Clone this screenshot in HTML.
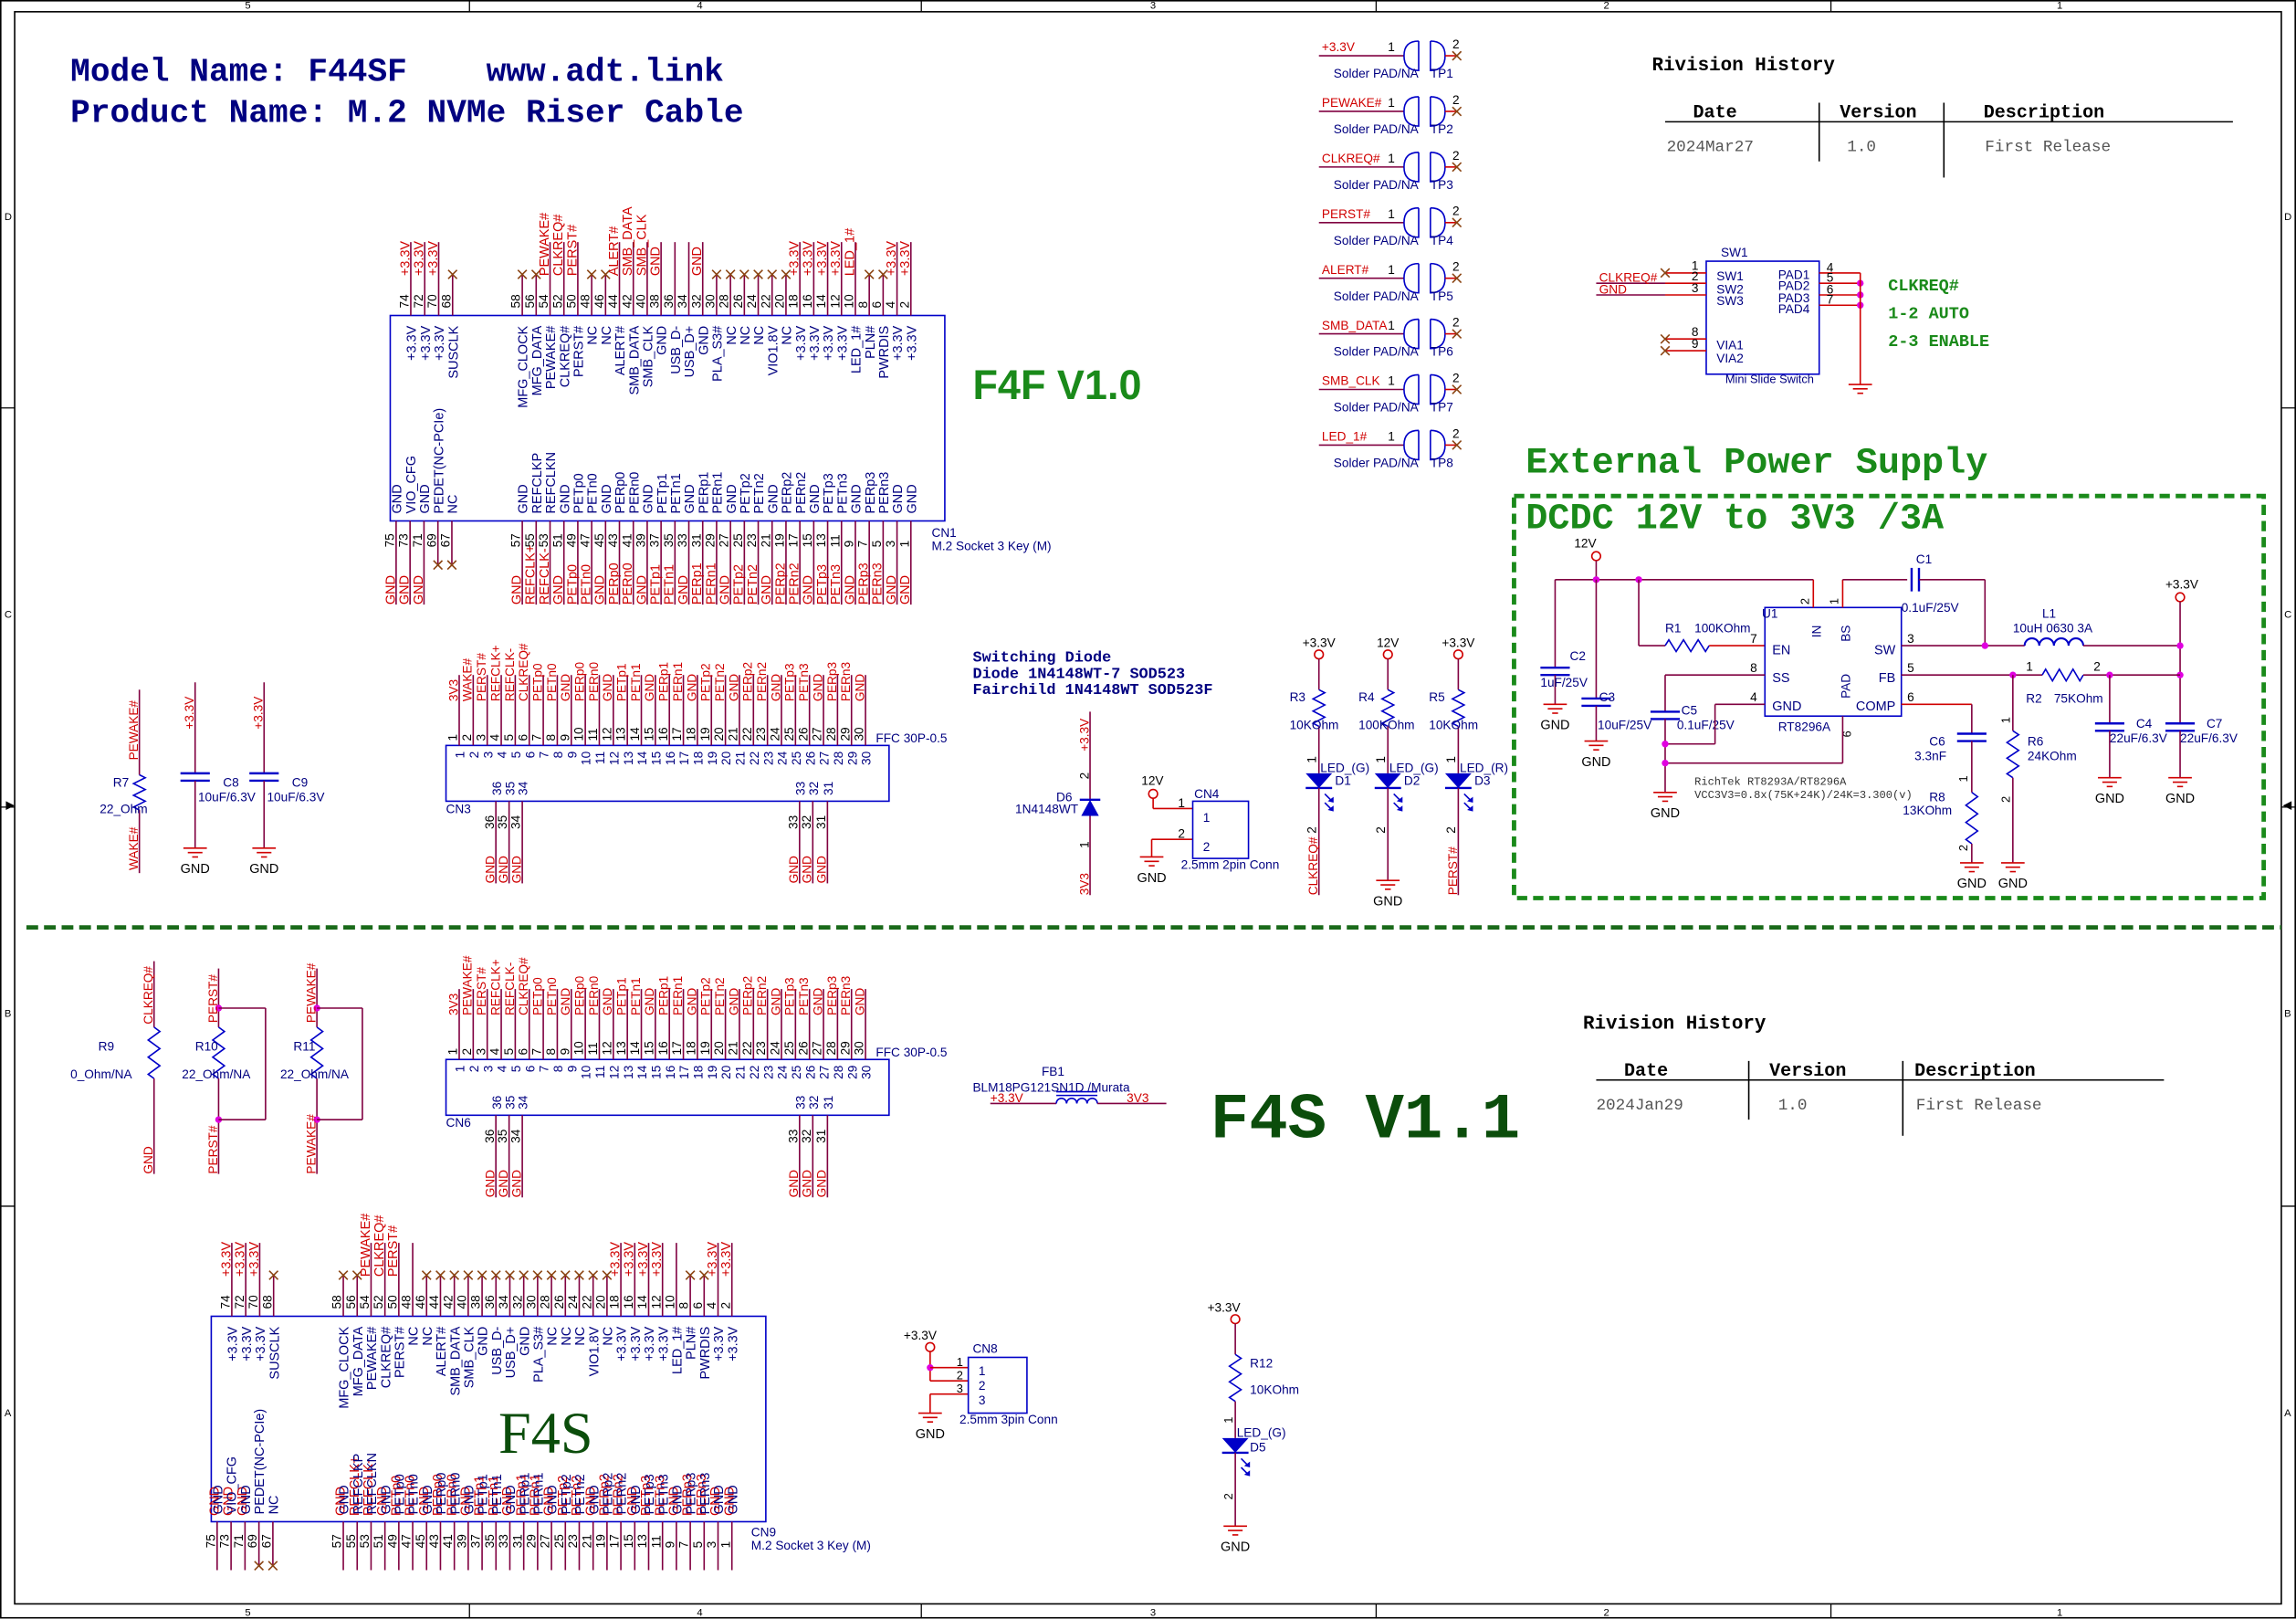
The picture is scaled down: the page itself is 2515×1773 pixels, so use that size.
<!DOCTYPE html>
<html><head><meta charset="utf-8"><style>
html,body{margin:0;padding:0;background:#fff;}
svg{display:block;font-family:"Liberation Sans",sans-serif;}
.m{font-family:"Liberation Mono",monospace;}
</style></head><body>
<svg id="sv" width="2515" height="1773" viewBox="0 0 1565 1103.3" preserveAspectRatio="none" xmlns="http://www.w3.org/2000/svg">
<rect x="0" y="0" width="1565" height="1104" fill="#fff"/>
<rect x="0.5" y="0.5" width="1564" height="1102" fill="none" stroke="#000" stroke-width="1"/>
<rect x="10" y="8" width="1545" height="1085" fill="none" stroke="#000" stroke-width="1"/>
<g font-size="7" fill="#000">
<text x="167" y="6">5</text><text x="475" y="6">4</text><text x="784" y="6">3</text><text x="1093" y="6">2</text><text x="1402" y="6">1</text>
<text x="167" y="1101">5</text><text x="475" y="1101">4</text><text x="784" y="1101">3</text><text x="1093" y="1101">2</text><text x="1402" y="1101">1</text>
<text x="3" y="150">D</text><text x="3" y="421">C</text><text x="3" y="693">B</text><text x="3" y="965">A</text>
<text x="1557" y="150">D</text><text x="1557" y="421">C</text><text x="1557" y="693">B</text><text x="1557" y="965">A</text>
</g>
<g stroke="#000" stroke-width="0.8">
<line x1="320" y1="0" x2="320" y2="8"/><line x1="628" y1="0" x2="628" y2="8"/><line x1="938" y1="0" x2="938" y2="8"/><line x1="1248" y1="0" x2="1248" y2="8"/>
<line x1="320" y1="1093" x2="320" y2="1103"/><line x1="628" y1="1093" x2="628" y2="1103"/><line x1="938" y1="1093" x2="938" y2="1103"/><line x1="1248" y1="1093" x2="1248" y2="1103"/>
<line x1="0" y1="278" x2="10" y2="278"/><line x1="0" y1="550" x2="10" y2="550"/><line x1="0" y1="822" x2="10" y2="822"/>
<line x1="1555" y1="278" x2="1565" y2="278"/><line x1="1555" y1="550" x2="1565" y2="550"/><line x1="1555" y1="822" x2="1565" y2="822"/>
</g>
<polygon points="4,546 10,549 4,552" fill="#000"/><polygon points="1562,546 1556,549 1562,552" fill="#000"/>

<text x="48" y="55" class="m" font-size="22.5" font-weight="bold" fill="#000080" xml:space="preserve" style="white-space:pre">Model Name: F44SF    www.adt.link</text>
<text x="48" y="83" class="m" font-size="22.5" font-weight="bold" fill="#000080">Product Name: M.2 NVMe Riser Cable</text>

<text x="663" y="272" font-size="28" font-weight="bold" fill="#1a8a1a">F4F V1.0</text>
<text x="825" y="775" class="m" font-size="44" font-weight="bold" fill="#0b4d0b">F4S V1.1</text>
<text x="1040" y="322" class="m" font-size="25" font-weight="bold" fill="#1a8a1a">External Power Supply</text>
<text x="1040" y="360" class="m" font-size="25" font-weight="bold" fill="#1a8a1a">DCDC 12V to 3V3 /3A</text>
<rect x="1032" y="338" width="511" height="274" fill="none" stroke="#1a8a1a" stroke-width="3" stroke-dasharray="7,4"/>
<line x1="18" y1="632" x2="1555" y2="632" stroke="#1a6a1a" stroke-width="3" stroke-dasharray="8,4"/>

<text x="663" y="451" class="m" font-size="10.5" font-weight="bold" fill="#000080">Switching Diode</text>
<text x="663" y="462" class="m" font-size="10.5" font-weight="bold" fill="#000080">Diode 1N4148WT-7 SOD523</text>
<text x="663" y="473" class="m" font-size="10.5" font-weight="bold" fill="#000080">Fairchild 1N4148WT SOD523F</text>

<text x="1126" y="48" class="m" font-size="13" font-weight="bold">Rivision History</text>
<line x1="1135" y1="83" x2="1522" y2="83" stroke="#000"/>
<line x1="1240" y1="70" x2="1240" y2="110" stroke="#000"/><line x1="1325" y1="70" x2="1325" y2="121" stroke="#000"/>
<text x="1154" y="80" class="m" font-size="12.5" font-weight="bold">Date</text>
<text x="1254" y="80" class="m" font-size="12.5" font-weight="bold">Version</text>
<text x="1352" y="80" class="m" font-size="12.5" font-weight="bold">Description</text>
<text x="1136" y="103" class="m" font-size="11" fill="#555">2024Mar27</text>
<text x="1259" y="103" class="m" font-size="11" fill="#555">1.0</text>
<text x="1353" y="103" class="m" font-size="11" fill="#555">First Release</text>
<text x="1079" y="701" class="m" font-size="13" font-weight="bold">Rivision History</text>
<line x1="1088" y1="736" x2="1475" y2="736" stroke="#000"/>
<line x1="1192" y1="723" x2="1192" y2="763" stroke="#000"/><line x1="1297" y1="723" x2="1297" y2="774" stroke="#000"/>
<text x="1107" y="733" class="m" font-size="12.5" font-weight="bold">Date</text>
<text x="1206" y="733" class="m" font-size="12.5" font-weight="bold">Version</text>
<text x="1305" y="733" class="m" font-size="12.5" font-weight="bold">Description</text>
<text x="1088" y="756" class="m" font-size="11" fill="#555">2024Jan29</text>
<text x="1212" y="756" class="m" font-size="11" fill="#555">1.0</text>
<text x="1306" y="756" class="m" font-size="11" fill="#555">First Release</text>

<text x="1287" y="198" class="m" font-size="11.5" font-weight="bold" fill="#1a8a1a">CLKREQ#</text>
<text x="1287" y="217" class="m" font-size="11.5" font-weight="bold" fill="#1a8a1a">1-2 AUTO</text>
<text x="1287" y="236" class="m" font-size="11.5" font-weight="bold" fill="#1a8a1a">2-3 ENABLE</text>
<text x="1155" y="535" class="m" font-size="7.5" fill="#333">RichTek RT8293A/RT8296A</text>
<text x="1155" y="544" class="m" font-size="7.5" fill="#333">VCC3V3=0.8x(75K+24K)/24K=3.300(v)</text>
<text x="372" y="990" font-family="Liberation Serif,serif" font-size="40" fill="#0b4d0b" text-anchor="middle">F4S</text>
<g id="gen"></g>
</svg>
<script>
let s='';
const W='#800040',R='#d00000',B='#0000c8',N='#000080',K='#000';
function L(x1,y1,x2,y2,c,w){c=c||W;w=w||1;s+=`<line x1="${x1}" y1="${y1}" x2="${x2}" y2="${y2}" stroke="${c}" stroke-width="${w}"/>`;}
function T(x,y,t,c,fs,a,rot){c=c||K;fs=fs||9;a=a||'start';s+=`<text x="${x}" y="${y}" fill="${c}" font-size="${fs}" text-anchor="${a}"${rot?` transform="rotate(${rot} ${x} ${y})"`:''}>${t}</text>`;}
function X(x,y){L(x-3,y-3,x+3,y+3,'#8b4513');L(x-3,y+3,x+3,y-3,'#8b4513');}
function G(x,y,lbl){L(x-8,y,x+8,y,R);L(x-5,y+3,x+5,y+3,R);L(x-2,y+6,x+2,y+6,R);if(lbl!==false)T(x,y+17,'GND',K,9,'middle');}
function P(x,y){s+=`<circle cx="${x}" cy="${y}" r="3" fill="none" stroke="${R}"/>`;}
function D(x,y){s+=`<circle cx="${x}" cy="${y}" r="2.3" fill="#e000e0"/>`;}
function ZV(x,y1,y2){let n=6,h=(y2-y1)/n,p=`M${x} ${y1}`;for(let i=0;i<n;i++)p+=` L${x+(i%2?-4:4)} ${y1+h*(i+0.5)}`;p+=` L${x} ${y2}`;s+=`<path d="${p}" fill="none" stroke="${B}"/>`;}
function ZH(x1,x2,y){let n=6,h=(x2-x1)/n,p=`M${x1} ${y}`;for(let i=0;i<n;i++)p+=` L${x1+h*(i+0.5)} ${y+(i%2?4:-4)}`;p+=` L${x2} ${y}`;s+=`<path d="${p}" fill="none" stroke="${B}"/>`;}
function CV(x,y){L(x-10,y,x+10,y,B,1.5);L(x-10,y+5,x+10,y+5,B,1.5);}
function CH(x,y){L(x,y-8,x,y+8,B,1.5);L(x+5,y-8,x+5,y+8,B,1.5);}
function RECT(x,y,w,h){s+=`<rect x="${x}" y="${y}" width="${w}" height="${h}" fill="none" stroke="${B}"/>`;}
function LED(x,y){s+=`<polygon points="${x-9},${y} ${x+9},${y} ${x},${y+10}" fill="${B}"/>`;L(x-9,y+10,x+9,y+10,B,1.5);
 L(x+4,y+14,x+9,y+19,B);L(x+4,y+20,x+9,y+25,B);s+=`<polygon points="${x+10},${y+20} ${x+6},${y+19} ${x+10},${y+16}" fill="${B}"/><polygon points="${x+10},${y+26} ${x+6},${y+25} ${x+10},${y+22}" fill="${B}"/>`;}

const topP=[74,72,70,68];for(let p=58;p>=2;p-=2)topP.push(p);
const botP=[75,73,71,69,67];for(let p=57;p>=1;p-=2)botP.push(p);
const topN={74:'+3.3V',72:'+3.3V',70:'+3.3V',68:'SUSCLK',58:'MFG_CLOCK',56:'MFG_DATA',54:'PEWAKE#',52:'CLKREQ#',50:'PERST#',48:'NC',46:'NC',44:'ALERT#',42:'SMB_DATA',40:'SMB_CLK',38:'GND',36:'USB_D-',34:'USB_D+',32:'GND',30:'PLA_S3#',28:'NC',26:'NC',24:'NC',22:'VIO1.8V',20:'NC',18:'+3.3V',16:'+3.3V',14:'+3.3V',12:'+3.3V',10:'LED_1#',8:'PLN#',6:'PWRDIS',4:'+3.3V',2:'+3.3V'};
const botN={75:'GND',73:'VIO_CFG',71:'GND',69:'PEDET(NC-PCIe)',67:'NC',57:'GND',55:'REFCLKP',53:'REFCLKN',51:'GND',49:'PETp0',47:'PETn0',45:'GND',43:'PERp0',41:'PERn0',39:'GND',37:'PETp1',35:'PETn1',33:'GND',31:'PERp1',29:'PERn1',27:'GND',25:'PETp2',23:'PETn2',21:'GND',19:'PERp2',17:'PERn2',15:'GND',13:'PETp3',11:'PETn3',9:'GND',7:'PERp3',5:'PERn3',3:'GND',1:'GND'};
const botNet={};for(const p of botP){let n=botN[p];if(p==55)n='REFCLK+';if(p==53)n='REFCLK-';if(p==73)n='GND';if(p==69||p==67)n='X';botNet[p]=n;}
function tx(p){return p>=68?280+(74-p)/2*9.5:356+(58-p)/2*9.46;}
function bxp(p){return p>=67?270+(75-p)/2*9.5:356+(57-p)/2*9.46;}
function m2(ox,oy,tnet,bottomInside,bend){
 const by=215+oy,bb=355+oy;RECT(266+ox,by,378,140);
 for(const p of topP){const x=tx(p)+ox,n=tnet[p];
  if(n==='X'){L(x,by,x,by-28);X(x,by-28);}else{L(x,by,x,by-50);if(n)T(x-1,by-27,n,R,9,'start',-90);}
  T(x-1.5,by-5,p,K,8.5,'start',-90);T(x+3.5,by+7,topN[p],N,9,'end',-90);}
 for(const p of botP){const x=bxp(p)+ox,n=botNet[p];
  if(n==='X'){L(x,bb,x,bb+30);X(x,bb+30);}else{L(x,bb,x,bend+oy);if(!bottomInside)T(x-1,bend+oy,n,R,9,'start',-90);else T(x+1,bb-4,n,R,9,'start',-90);}
  T(x-1.5,bb+18,p,K,8.5,'start',-90);T(x+3.5,bb-5,botN[p],N,9,'start',-90);}
}
const t1={};for(const p of topP)t1[p]='';
Object.assign(t1,{74:'+3.3V',72:'+3.3V',70:'+3.3V',68:'X',58:'X',56:'X',54:'PEWAKE#',52:'CLKREQ#',50:'PERST#',48:'X',46:'X',44:'ALERT#',42:'SMB_DATA',40:'SMB_CLK',38:'GND',32:'GND',30:'X',28:'X',26:'X',24:'X',22:'X',20:'X',18:'+3.3V',16:'+3.3V',14:'+3.3V',12:'+3.3V',10:'LED_1#',8:'X',6:'X',4:'+3.3V',2:'+3.3V'});
m2(0,0,t1,false,412);
T(635,366,'CN1',N,8.5);T(635,375,'M.2 Socket 3 Key (M)',N,8.5);
const t2={};for(const p of topP)t2[p]='X';
Object.assign(t2,{74:'+3.3V',72:'+3.3V',70:'+3.3V',54:'PEWAKE#',52:'CLKREQ#',50:'PERST#',48:'',18:'+3.3V',16:'+3.3V',14:'+3.3V',12:'+3.3V',10:'',4:'+3.3V',2:'+3.3V'});
m2(-122,682,t2,true,388);
T(512,1047,'CN9',N,8.5);T(512,1056,'M.2 Socket 3 Key (M)',N,8.5);

const f3=['3V3','WAKE#','PERST#','REFCLK+','REFCLK-','CLKREQ#','PETp0','PETn0','GND','PERp0','PERn0','GND','PETp1','PETn1','GND','PERp1','PERn1','GND','PETp2','PETn2','GND','PERp2','PERn2','GND','PETp3','PETn3','GND','PERp3','PERn3','GND'];
function ffc(oy,lab,name){const by=508+oy;RECT(304,by,302,38);
 for(let i=1;i<=30;i++){const x=313+(i-1)*9.55;L(x,by-48,x,by);T(x-1.5,by-3,i,K,8.5,'start',-90);T(x+3.5,by+4,i,N,8.5,'end',-90);T(x-1,by-30,lab[i-1],R,8.5,'start',-90);}
 [[36,338],[35,347],[34,356],[33,545],[32,554],[31,564]].forEach(([p,x])=>{L(x,by+38,x,by+94);T(x+3.5,by+34,p,N,8.5,'start',-90);T(x-1.5,by+57,p,K,8.5,'start',-90);T(x-1,by+94,'GND',R,8.5,'start',-90);});
 T(597,by-2,'FFC 30P-0.5',N,8.5);T(304,by+46,name,N,8.5);}
ffc(0,f3,'CN3');const f6=f3.slice();f6[1]='PEWAKE#';ffc(214,f6,'CN6');

L(95,470,95,528);ZV(95,528,552);L(95,552,95,595);T(94,518,'PEWAKE#',R,8.5,'start',-90);T(94,593,'WAKE#',R,8.5,'start',-90);T(77,536,'R7',N,8.5);T(68,554,'22_Ohm',N,8.5);
[[133,'C8'],[180,'C9']].forEach(([x,n])=>{L(x,465,x,527);CV(x,527);L(x,532,x,578);G(x,578);T(x-1,497,'+3.3V',R,8.5,'start',-90);T(x+19,536,n,N,8.5);T(x+2,546,'10uF/6.3V',N,8.5);});
L(105,655,105,700);ZV(105,700,735);L(105,735,105,800);T(104,698,'CLKREQ#',R,8.5,'start',-90);T(104,800,'GND',R,8.5,'start',-90);T(67,716,'R9',N,8.5);T(48,735,'0_Ohm/NA',N,8.5);
[[149,181,'PERST#','R10'],[216,247,'PEWAKE#','R11']].forEach(([x,xr,n,r])=>{L(x,660,x,700);ZV(x,700,735);L(x,735,x,800);D(x,687);D(x,763);L(x,687,xr,687);L(xr,687,xr,763);L(x,763,xr,763);T(x-1,697,n,R,8.5,'start',-90);T(x-1,800,n,R,8.5,'start',-90);T(x-16,716,r,N,8.5);T(x-25,735,'22_Ohm/NA',N,8.5);});

L(743,485,743,545);s+=`<polygon points="737,556 749,556 743,545" fill="${B}"/>`;L(736,545,750,545,B,1.5);L(743,556,743,610);
T(742,512,'+3.3V',R,8.5,'start',-90);T(742,610,'3V3',R,8.5,'start',-90);T(742,531,'2',K,8.5,'start',-90);T(742,578,'1',K,8.5,'start',-90);T(720,546,'D6',N,8.5);T(692,554,'1N4148WT',N,8.5);
P(786,541);T(778,535,'12V',K,8.5);L(786,544,786,551,R);L(786,551,813,551,R);L(785,572,813,572,R);L(785,572,785,584,R);G(785,584);
RECT(813,546,38,39);T(814,544,'CN4',N,8.5);T(820,560,'1',N,8.5);T(820,580,'2',N,8.5);T(803,550,'1',K,8.5);T(803,571,'2',K,8.5);T(805,592,'2.5mm 2pin  Conn',N,8.5);
[[899,'+3.3V','R3','10KOhm','LED_(G)','D1','CLKREQ#'],[946,'12V','R4','100KOhm','LED_(G)','D2','G'],[994,'+3.3V','R5','10KOhm','LED_(R)','D3','PERST#']].forEach(([x,pw,r,v,l,d,b])=>{
 T(x,441,pw,K,8.5,'middle');P(x,446);L(x,449,x,470);ZV(x,470,495);L(x,495,x,527);LED(x,527);L(x,537,x,b==='G'?600:610);
 T(x-20,478,r,N,8.5);T(x-20,497,v,N,8.5);T(x-2,520,'1',K,8.5,'start',-90);T(x-2,568,'2',K,8.5,'start',-90);T(x+1,526,l,N,8.5);T(x+11,535,d,N,8.5);
 if(b==='G')G(x,600);else T(x-1,610,b,R,8.5,'start',-90);});

const tps=['+3.3V','PEWAKE#','CLKREQ#','PERST#','ALERT#','SMB_DATA','SMB_CLK','LED_1#'];
tps.forEach((n,i)=>{const y=38+i*37.9;T(901,y-3,n,R,8.5);L(899,y,957,y);T(946,y-3,'1',K,8.5);
 s+=`<path d="M967 ${y-10} L967 ${y+10} Q957 ${y+10} 957 ${y} Q957 ${y-10} 967 ${y-10}" fill="none" stroke="${B}"/>`;
 s+=`<path d="M975 ${y-10} L975 ${y+10} Q985 ${y+10} 985 ${y} Q985 ${y-10} 975 ${y-10}" fill="none" stroke="${B}"/>`;
 L(985,y,993,y,R);X(993,y);T(990,y-5,'2',K,8.5);T(909,y+15,'Solder PAD/NA',N,8.5);T(975,y+15,'TP'+(i+1),N,8.5);});

RECT(1163,178,77,77);T(1173,175,'SW1',N,8.5);
[[186,'1','X'],[193,'2','CLKREQ#'],[201,'3','GND'],[231,'8','X'],[239,'9','X']].forEach(([y,p,n])=>{L(1135,y,1163,y,R);T(1153,y-2,p,K,8.5);if(n==='X')X(1135,y);else{L(1088,y,1135,y,W);T(1090,y-1,n,R,8.5);}});
T(1170,191,'SW1',N,8.5);T(1170,200,'SW2',N,8.5);T(1170,208,'SW3',N,8.5);T(1170,238,'VIA1',N,8.5);T(1170,247,'VIA2',N,8.5);
[[186,'4','PAD1'],[193,'5','PAD2'],[201,'6','PAD3'],[208,'7','PAD4']].forEach(([y,p,n],i)=>{L(1240,y,1268,y,R);T(1245,y-1,p,K,8.5);T(1212,y+4+i*0.5,n,N,8.5);if(i)D(1268,y);});
L(1268,186,1268,262,R);G(1268,262,false);T(1176,261,'Mini Slide Switch',N,8);

P(1088,379);T(1073,373,'12V',K,8.5);L(1088,382,1088,395);L(1060,395,1236,395);D(1088,395);D(1117,395);
L(1060,395,1060,455);CV(1060,455);L(1060,460,1060,480);G(1060,480);T(1070,450,'C2',N,8.5);T(1050,468,'1uF/25V',N,8.5);
L(1088,395,1088,476);CV(1088,476);L(1088,481,1088,505);G(1088,505);T(1090,478,'C3',N,8.5);T(1089,497,'10uF/25V',N,8.5);
L(1117,395,1117,440);L(1117,440,1135,440);ZH(1135,1165,440);L(1165,440,1203,440,R);T(1135,431,'R1',N,8.5);T(1155,431,'100KOhm',N,8.5);
RECT(1203,414,93,74);T(1201,421,'U1',N,8.5);
L(1236,395,1236,414,R);L(1256,395,1256,414,R);L(1256,395,1300,395);CH(1303,395);L(1308,395,1353,395);L(1353,395,1353,440);
T(1306,384,'C1',N,8.5);T(1296,417,'0.1uF/25V',N,8.5);T(1233,412,'2',K,8,'start',-90);T(1253,412,'1',K,8,'start',-90);
T(1241,426,'IN',N,8.5,'end',-90);T(1261,426,'BS',N,8.5,'end',-90);T(1261,476,'PAD',N,8.5,'start',-90);
T(1208,446,'EN',N,9);T(1208,465,'SS',N,9);T(1208,484,'GND',N,9);T(1292,446,'SW',N,9,'end');T(1292,465,'FB',N,9,'end');T(1292,484,'COMP',N,9,'end');T(1212,498,'RT8296A',N,8.5);
T(1193,438,'7',K,8.5);T(1193,458,'8',K,8.5);T(1193,478,'4',K,8.5);T(1300,438,'3',K,8.5);T(1300,458,'5',K,8.5);T(1300,478,'6',K,8.5);T(1256,498,'9',K,8,'start',90);
L(1296,440,1380,440);D(1353,440);s+=`<path d="M1380 440 a5 5 0 0 1 10 0 a5 5 0 0 1 10 0 a5 5 0 0 1 10 0 a5 5 0 0 1 10 0" fill="none" stroke="${B}" stroke-width="1.3"/>`;L(1420,440,1486,440);
T(1392,421,'L1',N,8.5);T(1372,431,'10uH 0630 3A',N,8.5);
P(1486,407);T(1476,401,'+3.3V',K,8.5);L(1486,410,1486,493);D(1486,440);D(1486,460);CV(1486,493);L(1486,498,1486,530);G(1486,530);T(1504,496,'C7',N,8.5);T(1486,506,'22uF/6.3V',N,8.5);
L(1296,460,1392,460);D(1372,460);ZH(1392,1420,460);L(1420,460,1486,460);D(1438,460);T(1381,457,'1',K,8.5);T(1427,457,'2',K,8.5);T(1381,479,'R2',N,8.5);T(1400,479,'75KOhm',N,8.5);
L(1438,460,1438,493);CV(1438,493);L(1438,498,1438,530);G(1438,530);T(1456,496,'C4',N,8.5);T(1438,506,'22uF/6.3V',N,8.5);
L(1372,460,1372,498);ZV(1372,498,530);L(1372,530,1372,588);G(1372,588);T(1382,508,'R6',N,8.5);T(1382,518,'24KOhm',N,8.5);T(1370,493,'1',K,8,'start',-90);T(1370,547,'2',K,8,'start',-90);
L(1296,480,1344,480,R);L(1344,480,1344,500);CV(1344,500);L(1344,505,1344,540);ZV(1344,540,575);L(1344,575,1344,588);G(1344,588);
T(1315,508,'C6',N,8.5);T(1305,518,'3.3nF',N,8.5);T(1315,546,'R8',N,8.5);T(1297,555,'13KOhm',N,8.5);T(1341,533,'1',K,8,'start',-90);T(1341,580,'2',K,8,'start',-90);
L(1203,460,1135,460);L(1135,460,1135,485);CV(1135,485);L(1135,490,1135,540);G(1135,540);T(1146,487,'C5',N,8.5);T(1143,497,'0.1uF/25V',N,8.5);
L(1203,480,1169,480);L(1169,480,1169,507);L(1169,507,1135,507);D(1135,507);L(1256,488,1256,520);L(1256,520,1135,520);D(1135,520);

T(710,733,'FB1',N,8.5);T(663,744,'BLM18PG121SN1D /Murata',N,8.5);L(675,752,720,752);s+=`<path d="M720 752 a3.5 3.5 0 0 1 7 0 a3.5 3.5 0 0 1 7 0 a3.5 3.5 0 0 1 7 0 a3.5 3.5 0 0 1 7 0" fill="none" stroke="${B}"/>`;
L(720,744,748,744,B);L(720,746.5,748,746.5,B);L(748,752,795,752);T(675,751,'+3.3V',R,8.5);T(768,751,'3V3',R,8.5);
P(634,918);T(616,913,'+3.3V',K,8.5);L(634,921,634,941,R);D(634,932);L(634,932,660,932,R);L(634,941,660,941,R);L(634,950,660,950,R);L(634,950,634,963,R);G(634,963);
RECT(660,925,40,38);T(663,922,'CN8',N,8.5);T(667,937,'1',N,8.5);T(667,947,'2',N,8.5);T(667,957,'3',N,8.5);T(652,931,'1',K,8);T(652,940,'2',K,8);T(652,949,'3',K,8);T(654,970,'2.5mm 3pin  Conn',N,8.5);
P(842,899);T(823,894,'+3.3V',K,8.5);L(842,902,842,923);ZV(842,923,955);L(842,955,842,980);LED(842,980);L(842,990,842,1040);G(842,1040);
T(852,932,'R12',N,8.5);T(852,950,'10KOhm',N,8.5);T(840,970,'1',K,8,'start',-90);T(840,1022,'2',K,8,'start',-90);T(843,979,'LED_(G)',N,8.5);T(852,989,'D5',N,8.5);

document.getElementById('gen').innerHTML=s;
</script>
</body></html>
